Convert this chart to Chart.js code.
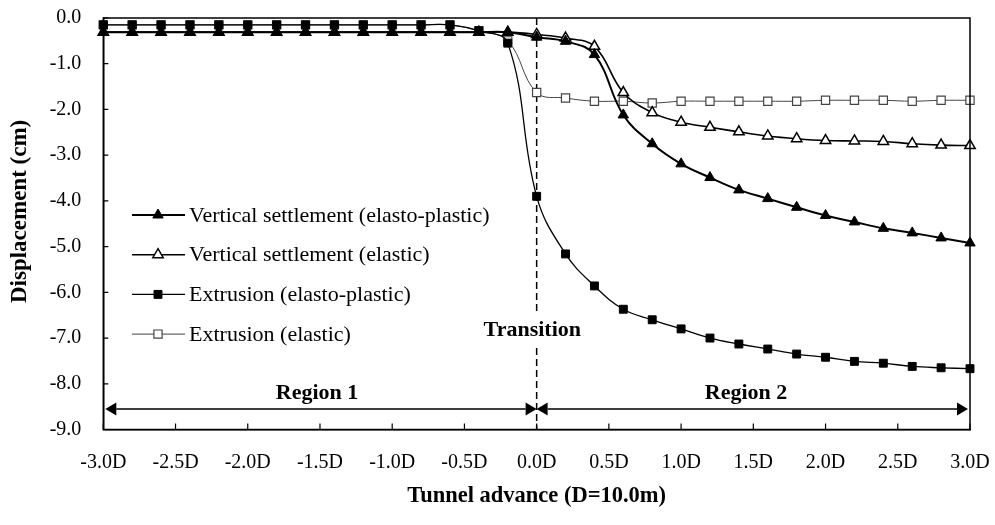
<!DOCTYPE html>
<html><head><meta charset="utf-8">
<script src="https://cdn.jsdelivr.net/npm/chart.js@4.4.1/dist/chart.umd.min.js"></script>
<style>html,body{margin:0;padding:0;background:#fff;}canvas{display:block;}</style>
</head><body>
<canvas id="c" width="995" height="525"></canvas>
<script>
// Tunnel advance positions (in D)
const advance = [-3.0,-2.8,-2.6,-2.4,-2.2,-2.0,-1.8,-1.6,-1.4,-1.2,-1.0,-0.8,-0.6,-0.4,-0.2,0.0,0.2,0.4,0.6,0.8,1.0,1.2,1.4,1.6,1.8,2.0,2.2,2.4,2.6,2.8,3.0];
// Displacement (cm)
const vsElastoPlastic = [-0.31,-0.31,-0.31,-0.31,-0.31,-0.31,-0.31,-0.31,-0.31,-0.31,-0.31,-0.31,-0.31,-0.31,-0.31,-0.42,-0.51,-0.80,-2.12,-2.75,-3.19,-3.49,-3.76,-3.95,-4.14,-4.32,-4.46,-4.60,-4.70,-4.81,-4.92];
const vsElastic       = [-0.31,-0.31,-0.31,-0.31,-0.31,-0.31,-0.31,-0.31,-0.31,-0.31,-0.31,-0.31,-0.31,-0.31,-0.31,-0.36,-0.44,-0.62,-1.63,-2.07,-2.28,-2.39,-2.49,-2.58,-2.64,-2.68,-2.69,-2.70,-2.75,-2.78,-2.79];
const extElastoPlastic= [-0.15,-0.15,-0.15,-0.15,-0.15,-0.15,-0.15,-0.15,-0.15,-0.15,-0.15,-0.15,-0.15,-0.28,-0.55,-3.90,-5.16,-5.86,-6.37,-6.60,-6.80,-7.00,-7.13,-7.24,-7.35,-7.42,-7.51,-7.55,-7.62,-7.65,-7.67];
const extElastic      = [-0.15,-0.15,-0.15,-0.15,-0.15,-0.15,-0.15,-0.15,-0.15,-0.15,-0.15,-0.15,-0.15,-0.28,-0.50,-1.63,-1.75,-1.82,-1.82,-1.86,-1.82,-1.82,-1.82,-1.82,-1.82,-1.80,-1.80,-1.80,-1.82,-1.80,-1.80];
const seriesNames = ['Vertical settlement (elasto-plastic)','Vertical settlement (elastic)','Extrusion (elasto-plastic)','Extrusion (elastic)'];
const regionNames = ['Region 1','Region 2'];
const transitionLabel = 'Transition';
const xTitle = 'Tunnel advance (D=10.0m)';
const yTitle = 'Displacement (cm)';

const FONT = "'Liberation Serif','Times New Roman',serif";
const pts = arr => arr.map((v,i)=>({x:advance[i], y:v}));

const styles = [
  {color:'#000', width:2,   point:'triangle', r:6,   fill:'#000', pbw:1},
  {color:'#000', width:1.6, point:'triangle', r:6,   fill:'#fff', pbw:1.5},
  {color:'#000', width:1.3, point:'rect',     r:5.6, fill:'#000', pbw:1},
  {color:'#444', width:1,   point:'rect',     r:5.8, fill:'#fff', pbw:1.2}
];
const seriesData = [vsElastoPlastic, vsElastic, extElastoPlastic, extElastic];

function drawMarker(ctx, st, x, y){
  ctx.save();
  ctx.fillStyle = st.fill; ctx.strokeStyle = st.color; ctx.lineWidth = st.pbw;
  ctx.beginPath();
  if (st.point === 'triangle'){
    const r = st.r;
    ctx.moveTo(x, y - r);
    ctx.lineTo(x + 0.866*r, y + 0.5*r);
    ctx.lineTo(x - 0.866*r, y + 0.5*r);
    ctx.closePath();
  } else {
    const s = st.r*Math.SQRT1_2;
    ctx.rect(x - s, y - s, 2*s, 2*s);
  }
  ctx.fill(); ctx.stroke();
  ctx.restore();
}

function zeroPad(s){ s.paddingTop = 0; s.paddingBottom = 0; s.paddingLeft = 0; s.paddingRight = 0; }

const decor = {
  id:'decor',
  beforeDatasetsDraw(chart){
    const {ctx, chartArea:a, scales:{x}} = chart;
    const px = x.getPixelForValue(0);
    ctx.save();
    ctx.setLineDash([7,4]); ctx.lineWidth = 1.5; ctx.strokeStyle = '#000';
    ctx.beginPath(); ctx.moveTo(px, a.top); ctx.lineTo(px, a.bottom); ctx.stroke();
    ctx.restore();
  },
  afterDatasetsDraw(chart){
    const {ctx, chartArea:a, scales:{x, y}} = chart;
    ctx.save();
    // frame
    ctx.strokeStyle = '#000'; ctx.lineWidth = 1.5;
    ctx.strokeRect(a.left, a.top, a.right - a.left, a.bottom - a.top);
    // inner ticks
    ctx.lineWidth = 1.2;
    ctx.beginPath();
    y.ticks.forEach(t => { const py = y.getPixelForValue(t.value); ctx.moveTo(a.left, py); ctx.lineTo(a.left + 5, py); });
    x.ticks.forEach(t => { const px = x.getPixelForValue(t.value); ctx.moveTo(px, a.bottom); ctx.lineTo(px, a.bottom - 6); });
    ctx.stroke();

    // region arrows
    const ay = y.getPixelForValue(-8.55);
    const x0 = x.getPixelForValue(-3) + 2, xm = x.getPixelForValue(0), x1 = x.getPixelForValue(3) - 2;
    function arrow(xa, xb){
      const h = 11, w = 6.5;
      ctx.lineWidth = 1.5; ctx.strokeStyle = '#000'; ctx.fillStyle = '#000';
      ctx.beginPath(); ctx.moveTo(xa + h, ay); ctx.lineTo(xb - h, ay); ctx.stroke();
      ctx.beginPath(); ctx.moveTo(xa, ay); ctx.lineTo(xa + h, ay - w); ctx.lineTo(xa + h, ay + w); ctx.closePath(); ctx.fill();
      ctx.beginPath(); ctx.moveTo(xb, ay); ctx.lineTo(xb - h, ay - w); ctx.lineTo(xb - h, ay + w); ctx.closePath(); ctx.fill();
    }
    arrow(x0, xm); arrow(xm, x1);

    ctx.fillStyle = '#000';
    ctx.font = "bold 22px " + FONT;
    ctx.textAlign = 'center'; ctx.textBaseline = 'middle';
    const ry = y.getPixelForValue(-8.2);
    ctx.fillText(regionNames[0], x.getPixelForValue(-1.52), ry);
    ctx.fillText(regionNames[1], x.getPixelForValue(1.45), ry);

    // transition label with white backing over dashed line
    const tx = x.getPixelForValue(-0.03), ty = y.getPixelForValue(-6.84);
    const tw = ctx.measureText(transitionLabel).width;
    ctx.fillStyle = '#fff';
    ctx.fillRect(tx - tw/2 - 2, ty - 18, tw + 4, 34);
    ctx.fillStyle = '#000';
    ctx.fillText(transitionLabel, tx, ty);

    // y-axis title
    ctx.save();
    ctx.font = "bold 23px " + FONT;
    ctx.translate(20, y.getPixelForValue(-4.23));
    ctx.rotate(-Math.PI/2);
    ctx.fillText(yTitle, 0, 0);
    ctx.restore();

    // legend
    ctx.font = "22px " + FONT;
    ctx.textAlign = 'left';
    seriesNames.forEach((name, i) => {
      const st = styles[i];
      const ly = 215 + i*39.7;
      ctx.strokeStyle = st.color; ctx.lineWidth = st.width;
      ctx.beginPath(); ctx.moveTo(132, ly); ctx.lineTo(185, ly); ctx.stroke();
      drawMarker(ctx, st, 158, ly);
      ctx.fillStyle = '#000';
      ctx.fillText(name, 189, ly + 1);
    });
    ctx.restore();
  }
};

new Chart(document.getElementById('c'), {
  type:'line',
  data:{
    datasets: seriesData.map((d,i)=>({
      label: seriesNames[i],
      data: pts(d),
      borderColor: styles[i].color,
      borderWidth: styles[i].width,
      pointStyle: styles[i].point,
      pointRadius: styles[i].r,
      pointHoverRadius: styles[i].r,
      pointBackgroundColor: styles[i].fill,
      pointBorderColor: styles[i].color,
      pointBorderWidth: styles[i].pbw,
      tension: 0.4,
      fill: false,
      clip: false
    }))
  },
  options:{
    responsive:false,
    animation:false,
    devicePixelRatio:1,
    layout:{autoPadding:false, padding:{top:18, right:25, bottom:0, left:0}},
    plugins:{legend:{display:false}, tooltip:{enabled:false}},
    scales:{
      x:{
        type:'linear', min:-3, max:3,
        grid:{display:false, drawTicks:false},
        border:{display:true, color:'#000', width:1.5},
        ticks:{stepSize:0.5, padding:21, color:'#000', font:{family:FONT, size:20},
          callback:v => (Math.abs(v) < 1e-9 ? 0 : v).toFixed(1) + 'D', maxRotation:0, autoSkip:false},
        title:{display:true, text:xTitle, color:'#000', font:{family:FONT, size:22.5, weight:'bold'}, padding:{top:0, bottom:15}},
        afterFit(s){ s.height = 95.5; zeroPad(s); }
      },
      y:{
        type:'linear', min:-9, max:0,
        grid:{display:false, drawTicks:false},
        border:{display:true, color:'#000', width:1.5},
        ticks:{stepSize:1, padding:22, color:'#000', font:{family:FONT, size:20},
          callback:v => (Math.abs(v) < 1e-9 ? 0 : v).toFixed(1)},
        title:{display:false, text:yTitle},
        afterFit(s){ s.width = 103.3; zeroPad(s); }
      }
    }
  },
  plugins:[decor]
});
</script>
</body></html>
